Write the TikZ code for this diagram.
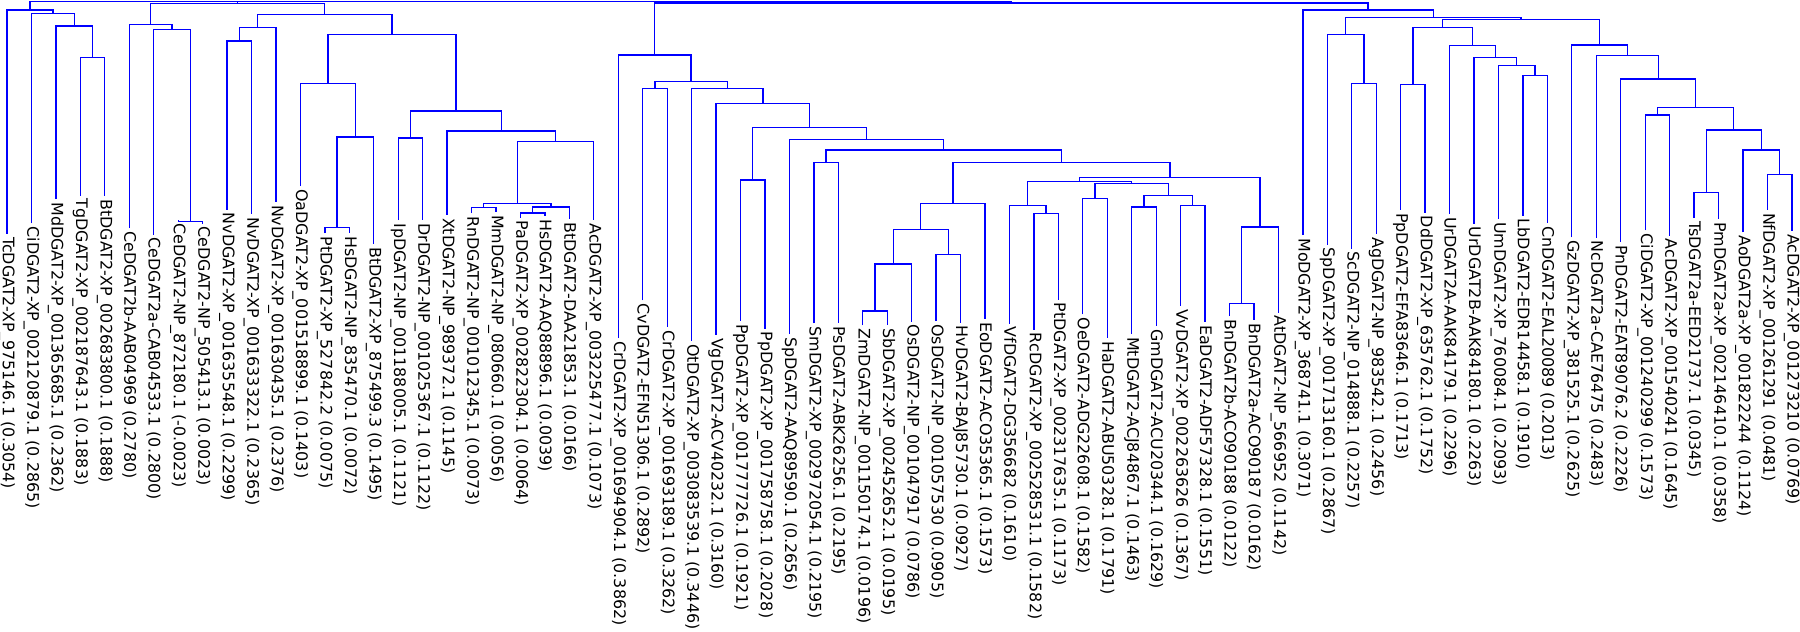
\documentclass[tikz,border=0pt]{standalone}
\usepackage{fontspec}
\newfontfamily\lblfont{DejaVu Sans}
\definecolor{treeblue}{RGB}{0,0,255}
\begin{document}
\begin{tikzpicture}[x=1pt,y=-1pt,
  br/.style={draw=treeblue, line width=1.3pt},
  lbl/.style={rotate=-90, anchor=west, inner xsep=3pt, inner ysep=0pt, text=black,
    font=\lblfont\fontsize{15.9}{18}\selectfont}]
\useasboundingbox (0,0) rectangle (1800,632);
% ---------------- leaves ----------------
\node[lbl] (L1) at (7.0,233.9) {TcDGAT2-XP\_975146.1 (0.3054)};
\node[lbl] (L2) at (31.45,223.3) {CiDGAT2-XP\_002120879.1 (0.2865)};
\node[lbl] (L3) at (55.9,199.1) {MdDGAT2-XP\_001365685.1 (0.2362)};
\node[lbl] (L4) at (80.35,195.7) {TgDGAT2-XP\_002187643.1 (0.1883)};
\node[lbl] (L5) at (104.8,196.1) {BtDGAT2-XP\_002683800.1 (0.1888)};
\node[lbl] (L6) at (129.25,228.1) {CeDGAT2b-AAB04969 (0.2780)};
\node[lbl] (L7) at (153.7,234.5) {CeDGAT2a-CAB04533.1 (0.2800)};
\node[lbl] (L8) at (178.15,220.1) {CeDGAT2-NP\_872180.1 (-0.0023)};
\node[lbl] (L9) at (202.6,223.5) {CeDGAT2-NP\_505413.1 (0.0023)};
\node[lbl] (L10) at (227.05,209.5) {NvDGAT2-XP\_001635548.1 (0.2299)};
\node[lbl] (L11) at (251.5,214.4) {NvDGAT2-XP\_001633322.1 (0.2365)};
\node[lbl] (L12) at (275.95,201.9) {NvDGAT2-XP\_001630435.1 (0.2376)};
\node[lbl] (L13) at (300.4,186.1) {OaDGAT2-XP\_001518899.1 (0.1403)};
\node[lbl] (L14) at (324.85,233.3) {PtDGAT2-XP\_527842.2 (0.0075)};
\node[lbl] (L15) at (349.3,233.1) {HsDGAT2-NP\_835470.1 (0.0072)};
\node[lbl] (L16) at (373.75,244.0) {BtDGAT2-XP\_875499.3 (0.1495)};
\node[lbl] (L17) at (398.2,220.2) {IpDGAT2-NP\_001188005.1 (0.1121)};
\node[lbl] (L18) at (422.65,220.2) {DrDGAT2-NP\_001025367.1 (0.1122)};
\node[lbl] (L19) at (447.1,214.9) {XtDGAT2-NP\_989372.1 (0.1145)};
\node[lbl] (L20) at (471.55,213.1) {RnDGAT2-NP\_001012345.1 (0.0073)};
\node[lbl] (L21) at (496.0,211.8) {MmDGAT2-NP\_080660.1 (0.0056)};
\node[lbl] (L22) at (520.45,217.7) {PaDGAT2-XP\_002822304.1 (0.0064)};
\node[lbl] (L23) at (544.9,215.9) {HsDGAT2-AAQ88896.1 (0.0039)};
\node[lbl] (L24) at (569.35,219.1) {BtDGAT2-DAA21853.1 (0.0166)};
\node[lbl] (L25) at (593.8,220.2) {AcDGAT2-XP\_003225477.1 (0.1073)};
\node[lbl] (L26) at (618.25,338.1) {CrDGAT2-XP\_001694904.1 (0.3862)};
\node[lbl] (L27) at (642.7,300.3) {CvDGAT2-EFN51306.1 (0.2892)};
\node[lbl] (L28) at (667.15,327.4) {CrDGAT2-XP\_001693189.1 (0.3262)};
\node[lbl] (L29) at (691.6,340.9) {OtDGAT2-XP\_003083539.1 (0.3446)};
\node[lbl] (L30) at (716.05,334.9) {VgDGAT2-ACV40232.1 (0.3160)};
\node[lbl] (L31) at (740.5,320.8) {PpDGAT2-XP\_001777726.1 (0.1921)};
\node[lbl] (L32) at (764.95,328.7) {PpDGAT2-XP\_001758758.1 (0.2028)};
\node[lbl] (L33) at (789.4,334.2) {SpDGAT2-AAQ89590.1 (0.2656)};
\node[lbl] (L34) at (813.85,323.4) {SmDGAT2-XP\_002972054.1 (0.2195)};
\node[lbl] (L35) at (838.3,323.4) {PsDGAT2-ABK26256.1 (0.2195)};
\node[lbl] (L36) at (862.75,325.4) {ZmDGAT2-NP\_001150174.1 (0.0196)};
\node[lbl] (L37) at (887.2,325.3) {SbDGAT2-XP\_002452652.1 (0.0195)};
\node[lbl] (L38) at (911.65,321.6) {OsDGAT2-NP\_001047917 (0.0786)};
\node[lbl] (L39) at (936.1,321.1) {OsDGAT2-NP\_001057530 (0.0905)};
\node[lbl] (L40) at (960.55,322.7) {HvDGAT2-BAJ85730.1 (0.0927)};
\node[lbl] (L41) at (985.0,318.9) {EoDGAT2-ACO35365.1 (0.1573)};
\node[lbl] (L42) at (1009.45,323.6) {VfDGAT2-DG356682 (0.1610)};
\node[lbl] (L43) at (1033.9,329.7) {RcDGAT2-XP\_002528531.1 (0.1582)};
\node[lbl] (L44) at (1058.35,299.7) {PtDGAT2-XP\_002317635.1 (0.1173)};
\node[lbl] (L45) at (1082.8,314.4) {OeDGAT2-ADG22608.1 (0.1582)};
\node[lbl] (L46) at (1107.25,338.0) {HaDGAT2-ABU50328.1 (0.1791)};
\node[lbl] (L47) at (1131.7,334.0) {MtDGAT2-ACJ84867.1 (0.1463)};
\node[lbl] (L48) at (1156.15,326.3) {GmDGAT2-ACU20344.1 (0.1629)};
\node[lbl] (L49) at (1180.6,305.8) {VvDGAT2-XP\_002263626 (0.1367)};
\node[lbl] (L50) at (1205.05,322.0) {EaDGAT2-ADF57328.1 (0.1551)};
\node[lbl] (L51) at (1229.5,316.0) {BnDGAT2b-ACO90188 (0.0122)};
\node[lbl] (L52) at (1253.95,320.0) {BnDGAT2a-ACO90187 (0.0162)};
\node[lbl] (L53) at (1278.4,312.5) {AtDGAT2-NP\_566952 (0.1142)};
\node[lbl] (L54) at (1302.85,235.1) {MoDGAT2-XP\_368741.1 (0.3071)};
\node[lbl] (L55) at (1327.3,244.5) {SpDGAT2-XP\_001713160.1 (0.2867)};
\node[lbl] (L56) at (1351.75,248.7) {ScDGAT2-NP\_014888.1 (0.2257)};
\node[lbl] (L57) at (1376.2,234.0) {AgDGAT2-NP\_983542.1 (0.2456)};
\node[lbl] (L58) at (1400.65,209.9) {PpDGAT2-EFA83646.1 (0.1713)};
\node[lbl] (L59) at (1425.1,212.7) {DdDGAT2-XP\_635762.1 (0.1752)};
\node[lbl] (L60) at (1449.55,214.0) {UrDGAT2A-AAK84179.1 (0.2296)};
\node[lbl] (L61) at (1474.0,223.6) {UrDGAT2B-AAK84180.1 (0.2263)};
\node[lbl] (L62) at (1498.45,219.1) {UmDGAT2-XP\_760084.1 (0.2093)};
\node[lbl] (L63) at (1522.9,215.7) {LbDGAT2-EDR14458.1 (0.1910)};
\node[lbl] (L64) at (1547.35,223.3) {CnDGAT2-EAL20089 (0.2013)};
\node[lbl] (L65) at (1571.8,237.4) {GzDGAT2-XP\_381525.1 (0.2625)};
\node[lbl] (L66) at (1596.25,237.7) {NcDGAT2a-CAE76475 (0.2483)};
\node[lbl] (L67) at (1620.7,242.2) {PnDGAT2-EAT89076.2 (0.2226)};
\node[lbl] (L68) at (1645.15,230.3) {CiDGAT2-XP\_001240299 (0.1573)};
\node[lbl] (L69) at (1669.6,235.6) {AcDGAT2-XP\_001540241 (0.1645)};
\node[lbl] (L70) at (1694.05,218.0) {TsDGAT2a-EED21737.1 (0.0345)};
\node[lbl] (L71) at (1718.5,218.9) {PmDGAT2a-XP\_002146410.1 (0.0358)};
\node[lbl] (L72) at (1742.95,232.4) {AoDGAT2a-XP\_001822244 (0.1124)};
\node[lbl] (L73) at (1767.4,209.9) {NfDGAT2-XP\_001261291 (0.0481)};
\node[lbl] (L74) at (1791.85,231.0) {AcDGAT2-XP\_001273210 (0.0769)};
% ---------------- internal nodes ----------------
\coordinate (nA45) at (92.6,57.7);
\coordinate (nA3) at (74.25,26);
\coordinate (nA2) at (52.85,13.3);
\coordinate (nA) at (29.9,10);
\coordinate (nB89) at (190.4,221.8);
\coordinate (nB7) at (172.05,29.3);
\coordinate (nB6) at (150.65,24.3);
\coordinate (nBnv2) at (239.3,41);
\coordinate (nBnv) at (257.6,27.7);
\coordinate (nB1415) at (337.1,227.8);
\coordinate (nB16) at (355.4,137);
\coordinate (nB13) at (327.9,83.3);
\coordinate (nB1718) at (410.4,138);
\coordinate (nB2021) at (483.8,207.7);
\coordinate (nB2223) at (532.7,213);
\coordinate (nB24) at (551.0,206.9);
\coordinate (nB2024) at (517.4,203.6);
\coordinate (nB25) at (555.6,141.5);
\coordinate (nB19) at (501.35,131);
\coordinate (nB17) at (455.9,111);
\coordinate (nB1325) at (391.9,34.3);
\coordinate (nB1025) at (324.75,14.3);
\coordinate (nB) at (237.7,3.3);
\coordinate (nD2728) at (654.9,88.3);
\coordinate (nD3132) at (752.7,180);
\coordinate (nD3435) at (826.1,162.5);
\coordinate (nD3637) at (875.0,311);
\coordinate (nD38) at (893.3,264);
\coordinate (nD3940) at (948.3,254.8);
\coordinate (nD3640) at (920.8,229.8);
\coordinate (nD41) at (952.9,203.6);
\coordinate (nD4344) at (1046.1,213.7);
\coordinate (nD42) at (1027.8,205.6);
\coordinate (nD4546) at (1095.0,198.4);
\coordinate (nD4748) at (1143.9,206.9);
\coordinate (nD4950) at (1192.8,205.6);
\coordinate (nDS) at (1168.4,195.6);
\coordinate (nDR1) at (1131.7,183.2);
\coordinate (nDR0) at (1079.75,181.5);
\coordinate (nD5152) at (1241.7,303.2);
\coordinate (nD53) at (1260.05,227);
\coordinate (nD4253) at (1169.9,177.4);
\coordinate (nD4153) at (1061.4,162.5);
\coordinate (nD3453) at (943.75,150);
\coordinate (nD33) at (866.6,139.5);
\coordinate (nD3153) at (809.65,127.7);
\coordinate (nD30) at (762.85,103.3);
\coordinate (nD29) at (727.2,88.3);
\coordinate (nD27) at (691.05,81.7);
\coordinate (nD) at (654.65,55);
\coordinate (nC5657) at (1363.95,83.3);
\coordinate (nC55) at (1345.6,34.3);
\coordinate (nC5859) at (1412.9,84.3);
\coordinate (nC6364) at (1535.1,75.7);
\coordinate (nC62) at (1516.8,65.7);
\coordinate (nC61) at (1495.4,57.7);
\coordinate (nC60) at (1472.5,45.7);
\coordinate (nC5864) at (1442.7,27.7);
\coordinate (nC6869) at (1657.4,115);
\coordinate (nC7071) at (1706.3,192.7);
\coordinate (nC7374) at (1779.6,174.6);
\coordinate (nC72) at (1761.3,150);
\coordinate (nC7074) at (1733.8,130);
\coordinate (nC6874) at (1695.6,107.7);
\coordinate (nC67) at (1658.15,79);
\coordinate (nC66) at (1627.2,55.7);
\coordinate (nC65) at (1599.5,45);
\coordinate (nC5874) at (1521.1,19.3);
\coordinate (nC5574) at (1433.35,17.5);
\coordinate (nC) at (1368.1,10);
\coordinate (nX) at (1011.4,3);
\coordinate (nAB) at (133.8,1.2);
\coordinate (nRoot) at (572.6,1.2);
% ---------------- branches ----------------
\draw[br] (L4.west) |- (nA45) -| (L5.west);
\draw[br] (L3.west) |- (nA3) -| (nA45);
\draw[br] (L2.west) |- (nA2) -| (nA3);
\draw[br] (L1.west) |- (nA) -| (nA2);
\draw[br] (L8.west) |- (nB89) -| (L9.west);
\draw[br] (L7.west) |- (nB7) -| (nB89);
\draw[br] (L6.west) |- (nB6) -| (nB7);
\draw[br] (L10.west) |- (nBnv2) -| (L11.west);
\draw[br] (nBnv2) |- (nBnv) -| (L12.west);
\draw[br] (L14.west) |- (nB1415) -| (L15.west);
\draw[br] (nB1415) |- (nB16) -| (L16.west);
\draw[br] (L13.west) |- (nB13) -| (nB16);
\draw[br] (L17.west) |- (nB1718) -| (L18.west);
\draw[br] (L20.west) |- (nB2021) -| (L21.west);
\draw[br] (L22.west) |- (nB2223) -| (L23.west);
\draw[br] (nB2223) |- (nB24) -| (L24.west);
\draw[br] (nB2021) |- (nB2024) -| (nB24);
\draw[br] (nB2024) |- (nB25) -| (L25.west);
\draw[br] (L19.west) |- (nB19) -| (nB25);
\draw[br] (nB1718) |- (nB17) -| (nB19);
\draw[br] (nB13) |- (nB1325) -| (nB17);
\draw[br] (nBnv) |- (nB1025) -| (nB1325);
\draw[br] (nB6) |- (nB) -| (nB1025);
\draw[br] (L27.west) |- (nD2728) -| (L28.west);
\draw[br] (L31.west) |- (nD3132) -| (L32.west);
\draw[br] (L34.west) |- (nD3435) -| (L35.west);
\draw[br] (L36.west) |- (nD3637) -| (L37.west);
\draw[br] (nD3637) |- (nD38) -| (L38.west);
\draw[br] (L39.west) |- (nD3940) -| (L40.west);
\draw[br] (nD38) |- (nD3640) -| (nD3940);
\draw[br] (nD3640) |- (nD41) -| (L41.west);
\draw[br] (L43.west) |- (nD4344) -| (L44.west);
\draw[br] (L42.west) |- (nD42) -| (nD4344);
\draw[br] (L45.west) |- (nD4546) -| (L46.west);
\draw[br] (L47.west) |- (nD4748) -| (L48.west);
\draw[br] (L49.west) |- (nD4950) -| (L50.west);
\draw[br] (nD4748) |- (nDS) -| (nD4950);
\draw[br] (nD4546) |- (nDR1) -| (nDS);
\draw[br] (nD42) |- (nDR0) -| (nDR1);
\draw[br] (L51.west) |- (nD5152) -| (L52.west);
\draw[br] (nD5152) |- (nD53) -| (L53.west);
\draw[br] (nDR0) |- (nD4253) -| (nD53);
\draw[br] (nD41) |- (nD4153) -| (nD4253);
\draw[br] (nD3435) |- (nD3453) -| (nD4153);
\draw[br] (L33.west) |- (nD33) -| (nD3453);
\draw[br] (nD3132) |- (nD3153) -| (nD33);
\draw[br] (L30.west) |- (nD30) -| (nD3153);
\draw[br] (L29.west) |- (nD29) -| (nD30);
\draw[br] (nD2728) |- (nD27) -| (nD29);
\draw[br] (L26.west) |- (nD) -| (nD27);
\draw[br] (L56.west) |- (nC5657) -| (L57.west);
\draw[br] (L55.west) |- (nC55) -| (nC5657);
\draw[br] (L58.west) |- (nC5859) -| (L59.west);
\draw[br] (L63.west) |- (nC6364) -| (L64.west);
\draw[br] (L62.west) |- (nC62) -| (nC6364);
\draw[br] (L61.west) |- (nC61) -| (nC62);
\draw[br] (L60.west) |- (nC60) -| (nC61);
\draw[br] (nC5859) |- (nC5864) -| (nC60);
\draw[br] (L68.west) |- (nC6869) -| (L69.west);
\draw[br] (L70.west) |- (nC7071) -| (L71.west);
\draw[br] (L73.west) |- (nC7374) -| (L74.west);
\draw[br] (L72.west) |- (nC72) -| (nC7374);
\draw[br] (nC7071) |- (nC7074) -| (nC72);
\draw[br] (nC6869) |- (nC6874) -| (nC7074);
\draw[br] (L67.west) |- (nC67) -| (nC6874);
\draw[br] (L66.west) |- (nC66) -| (nC67);
\draw[br] (L65.west) |- (nC65) -| (nC66);
\draw[br] (nC5864) |- (nC5874) -| (nC65);
\draw[br] (nC55) |- (nC5574) -| (nC5874);
\draw[br] (L54.west) |- (nC) -| (nC5574);
\draw[br] (nD) |- (nX) -| (nC);
\draw[br] (nA) |- (nAB) -| (nB);
\draw[br] (nAB) |- (nRoot) -| (nX);
\end{tikzpicture}
\end{document}
